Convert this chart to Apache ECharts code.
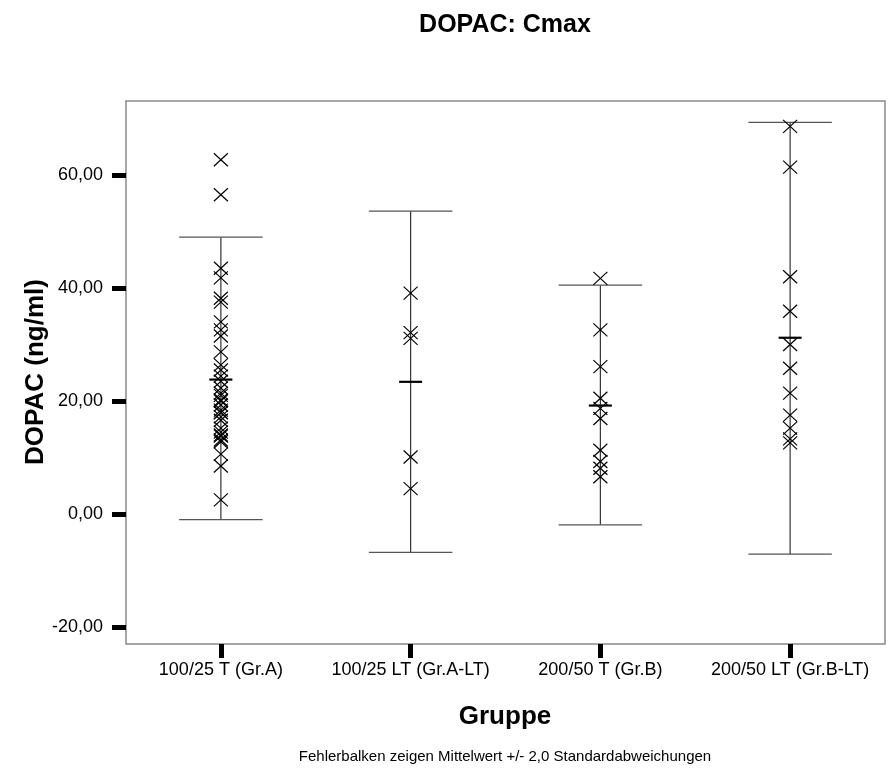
<!DOCTYPE html>
<html>
<head>
<meta charset="utf-8">
<script src="https://cdn.jsdelivr.net/npm/echarts@6/dist/echarts.min.js"></script>
<style>html,body{margin:0;padding:0;background:#fff}#c{width:890px;height:774px}</style>
</head>
<body>
<div id="c"></div>
<script>
// ---- data ----
var categories = ['100/25 T (Gr.A)', '100/25 LT (Gr.A-LT)', '200/50 T (Gr.B)', '200/50 LT (Gr.B-LT)'];
var means = [23.8, 23.4, 19.2, 31.2];
var lower = [-1.0, -6.8, -1.9, -7.1];
var upper = [49.0, 53.6, 40.5, 69.3];
var groupA = [62.7, 56.5, 43.5, 41.8, 38.2, 37.5, 34.0, 32.6, 31.5, 28.7, 26.4, 25.5, 24.4, 23.5,
              22.3, 21.4, 21.0, 20.2, 20.0, 19.3, 18.4, 18.0, 17.9, 17.2, 16.6, 15.2, 14.5, 14.0,
              13.8, 13.1, 12.8, 10.6, 8.5, 2.5];
var groupB = [39.1, 32.1, 31.1, 10.1, 4.5];
var groupC = [41.7, 32.6, 26.1, 20.5, 18.7, 16.9, 11.3, 9.3, 8.1, 6.6];
var groupD = [68.6, 61.4, 42.0, 35.9, 30.0, 25.8, 21.4, 17.5, 15.2, 13.3, 12.6];
var yTicks = [-20, 0, 20, 40, 60];
var yMin = -23.0, yMax = 73.1;

var groups = [groupA, groupB, groupC, groupD];
var pointData = [];
groups.forEach(function (g, i) { g.forEach(function (v) { pointData.push([i, v]); }); });
var barData = categories.map(function (c, i) { return [i, lower[i], upper[i], means[i]]; });

var chart = echarts.init(document.getElementById('c'), null, {renderer: 'canvas'});
var FONT = '"Liberation Sans", Arial, sans-serif';

chart.setOption({
  backgroundColor: '#fff',
  animation: false,
  grid: {left: 126, top: 101, right: 5, bottom: 130, show: true, borderColor: '#8a8a8a', borderWidth: 1.5, backgroundColor: 'transparent'},
  xAxis: {
    type: 'category', data: categories, boundaryGap: true, position: 'bottom',
    axisLine: {show: false, onZero: false},
    axisTick: {show: true, alignWithLabel: true, interval: 0, length: 14, lineStyle: {color: '#000', width: 5}},
    axisLabel: {margin: 17, interval: 0, fontSize: 18, color: '#000', fontFamily: FONT},
    splitLine: {show: false}
  },
  yAxis: {
    type: 'value', min: yMin, max: yMax,
    axisLine: {show: false, onZero: false},
    axisTick: {show: true, length: 14, customValues: yTicks, lineStyle: {color: '#000', width: 5}},
    axisLabel: {margin: 23, fontSize: 18, color: '#000', fontFamily: FONT, customValues: yTicks,
      formatter: function (v) { return v.toFixed(2).replace('.', ','); }},
    splitLine: {show: false}
  },
  graphic: [
    {type: 'text', x: 505, y: 25, style: {text: 'DOPAC: Cmax', font: 'bold 25px ' + FONT, fill: '#000', textAlign: 'center', textVerticalAlign: 'middle', align: 'center', verticalAlign: 'middle'}},
    {type: 'text', x: 505, y: 717, style: {text: 'Gruppe', font: 'bold 26px ' + FONT, fill: '#000', textAlign: 'center', textVerticalAlign: 'middle', align: 'center', verticalAlign: 'middle'}},
    {type: 'text', x: 505, y: 757, style: {text: 'Fehlerbalken zeigen Mittelwert +/- 2,0 Standardabweichungen', font: '15px ' + FONT, fill: '#000', textAlign: 'center', textVerticalAlign: 'middle', align: 'center', verticalAlign: 'middle'}},
    {type: 'text', x: 36, y: 372, rotation: Math.PI / 2, style: {text: 'DOPAC (ng/ml)', font: 'bold 26px ' + FONT, fill: '#000', textAlign: 'center', textVerticalAlign: 'middle', align: 'center', verticalAlign: 'middle'}}
  ],
  series: [
    {
      type: 'custom', data: barData, z: 2,
      renderItem: function (params, api) {
        var i = api.value(0);
        var lo = api.coord([i, api.value(1)]);
        var hi = api.coord([i, api.value(2)]);
        var mn = api.coord([i, api.value(3)]);
        var bw = api.size([1, 0])[0];
        var cw = bw * 0.22, mw = 11.5;
        return {type: 'group', children: [
          {type: 'line', shape: {x1: lo[0], y1: lo[1], x2: hi[0], y2: hi[1]}, style: {stroke: '#333', lineWidth: 1.2}},
          {type: 'line', shape: {x1: hi[0] - cw, y1: hi[1], x2: hi[0] + cw, y2: hi[1]}, style: {stroke: '#555', lineWidth: 1.2}},
          {type: 'line', shape: {x1: lo[0] - cw, y1: lo[1], x2: lo[0] + cw, y2: lo[1]}, style: {stroke: '#555', lineWidth: 1.2}},
          {type: 'line', shape: {x1: mn[0] - mw, y1: mn[1], x2: mn[0] + mw, y2: mn[1]}, style: {stroke: '#000', lineWidth: 2.2}}
        ]};
      }
    },
    {
      type: 'custom', data: pointData, z: 3,
      renderItem: function (params, api) {
        var p = api.coord([api.value(0), api.value(1)]);
        var hw = 7, hh = 6.5;
        return {type: 'group', children: [
          {type: 'line', shape: {x1: p[0] - hw, y1: p[1] - hh, x2: p[0] + hw, y2: p[1] + hh}, style: {stroke: '#000', lineWidth: 1.2}},
          {type: 'line', shape: {x1: p[0] - hw, y1: p[1] + hh, x2: p[0] + hw, y2: p[1] - hh}, style: {stroke: '#000', lineWidth: 1.2}}
        ]};
      }
    }
  ]
});
</script>
</body>
</html>
